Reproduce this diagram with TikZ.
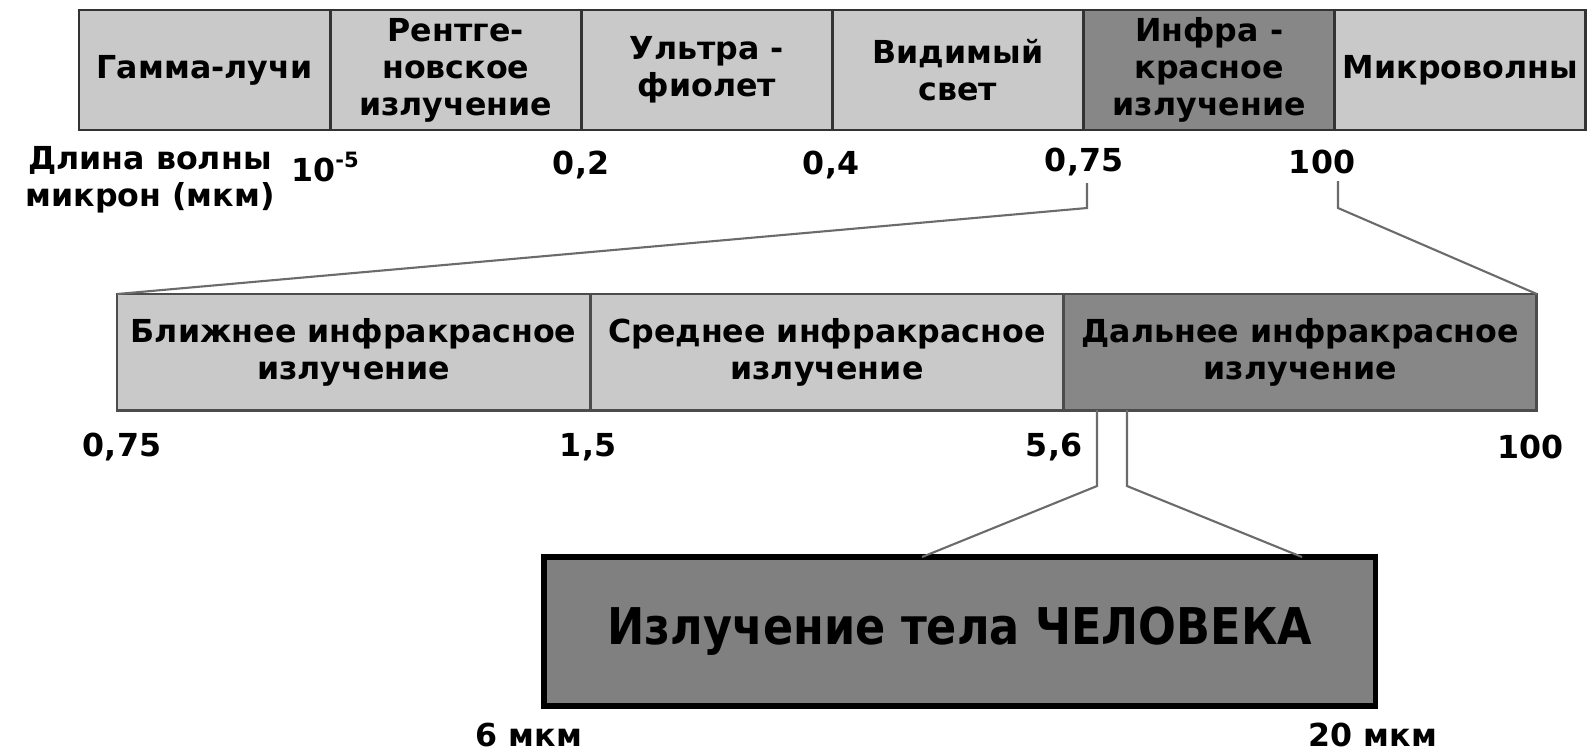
\documentclass[tikz,border=0pt]{standalone}
\usepackage{fontspec}
\setmainfont{DejaVu Sans}
\newfontfamily\narrowfont{DejaVu Sans}[FakeStretch=0.88]
\usetikzlibrary{positioning}
\definecolor{lightband}{gray}{0.79}
\definecolor{darkband}{gray}{0.53}
\definecolor{bodyfill}{gray}{0.5}
\definecolor{linkgray}{gray}{0.42}

\begin{document}
\begin{tikzpicture}
  [
    x=0.01cm,
    y=-0.01cm,
    every node/.style={
      font=\bfseries\fontsize{9}{10.5}\selectfont,
      inner sep=0pt,
      outer sep=0pt
    },
    band/.style={
      draw=black!80,
      line width=0.8pt,
      fill=lightband,
      align=center,
      minimum width=2.51cm,
      minimum height=1.2cm
    },
    wide/.style={
      band,
      draw=black!70,
      minimum width=4.73cm,
      minimum height=1.16cm
    },
    body/.style={
      draw=black,
      line width=1.6pt,
      fill=bodyfill,
      minimum width=8.31cm,
      minimum height=1.49cm,
      font=\narrowfont\bfseries\fontsize{14.4}{16}\selectfont
    },
    lab/.style={
      inner sep=2pt,
      align=center
    },
    link/.style={
      draw=linkgray,
      line width=0.6pt
    }
  ]
  \useasboundingbox (0,0) rectangle (1589,753);
  % spectrum
  \node [band, anchor=north west] (gamma) at (79,10) {Гамма-лучи};
  \node [band, right=0pt of gamma] (xray) {Рентге-\\новское\\излучение};
  \node [band, right=0pt of xray] (uv) {Ультра -\\фиолет};
  \node [band, right=0pt of uv] (vis) {Видимый\\свет};
  \node [band, right=0pt of vis, fill=darkband] (ir) {Инфра -\\красное\\излучение};
  \node [band, right=0pt of ir] (micro) {Микроволны};
  % infrared
  \node [wide, anchor=north west] (nir) at (117,294) {Ближнее инфракрасное\\излучение};
  \node [wide, right=0pt of nir] (mir) {Среднее инфракрасное\\излучение};
  \node [wide, right=0pt of mir, fill=darkband] (fir) {Дальнее инфракрасное\\излучение};
  % human
  \node [body, anchor=north west] (human) at (544,557) {Излучение тела ЧЕЛОВЕКА};
    % labels
    \node [lab] (unit) at (150,180) {Длина волны\\микрон (мкм)};
    \node [lab] (t1) at (326,167) {10\textsuperscript{-5}};
    \node [lab] (t2) at (581,165) {0,2};
    \node [lab] (t3) at (831,165) {0,4};
    \node [lab] (t4) at (1084,162) {0,75};
    \node [lab] (t5) at (1322,162) {100};
    \node [lab] (m1) at (122,447) {0,75};
    \node [lab] (m2) at (588,447) {1,5};
    \node [lab] (m3) at (1054,447) {5,6};
    \node [lab] (m4) at (1530,447) {100};
    \node [lab] (b1) at (529,735) {6 мкм};
    \node [lab] (b2) at (1373,735) {20 мкм};
  % connectors
  \coordinate (k1) at (1087,208);
  \coordinate (k2) at (1338,208);
  \coordinate (h1) at (1097,486);
  \coordinate (h2) at (1127,486);
  \coordinate (e1) at (922,557);
  \coordinate (e2) at (1302,557);
  \draw [link] (k1 |- t4.south) -- (k1) -- (nir.north west);
  \draw [link] (k2 |- t5.south) -- (k2) -- (fir.north east);
  \draw [link] (h1 |- fir.south) -- (h1) -- (e1);
  \draw [link] (h2 |- fir.south) -- (h2) -- (e2);
\end{tikzpicture}
\end{document}
